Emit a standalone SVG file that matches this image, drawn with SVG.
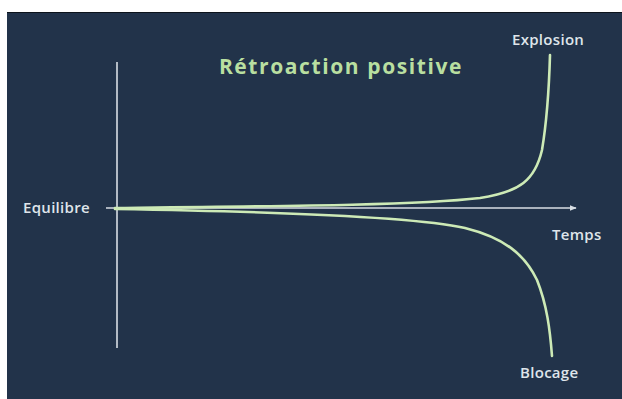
<svg xmlns="http://www.w3.org/2000/svg" width="622" height="399" viewBox="0 0 622 399">
<style>
.lbl{font-family:"Open Sans","Liberation Sans",sans-serif;font-size:15px;font-weight:600;letter-spacing:0.3px;fill:#dfe5ea}
.ttl{font-family:"Open Sans","Liberation Sans",sans-serif;font-size:21px;font-weight:bold;letter-spacing:1.6px;fill:#b9dfa0}
.axis{stroke:#d8dee4;stroke-width:1.6;fill:none}
.curve{stroke:#cdeab6;stroke-width:2.6;fill:none;stroke-linecap:round}
</style>
<defs>
<marker id="ah" viewBox="0 0 10 10" refX="9" refY="5" markerWidth="7" markerHeight="7" orient="auto" markerUnits="userSpaceOnUse">
<path d="M0,1 L10,5 L0,9 z" fill="#d8dee4"/>
</marker>
</defs>
<rect x="0" y="0" width="622" height="399" fill="#ffffff"/>
<rect x="7" y="12" width="615" height="387" fill="#22334a"/>
<line x1="7" y1="12.5" x2="622" y2="12.5" stroke="#0d141c" stroke-width="1"/>
<g id="title"><text class="ttl" x="341" y="74" text-anchor="middle">Rétroaction positive</text></g>
<g id="connectors">
<line class="axis" x1="117" y1="62" x2="117" y2="348"/>
<line class="axis" x1="106" y1="208" x2="576" y2="208" marker-end="url(#ah)"/>
<path class="curve" d="M115,208 C300,206 420,205 480,198 C520,192 535,180 542,150 C547,120 549,90 550,55"/>
<path class="curve" d="M115,209 C300,212 420,218 465,228 C505,238 525,255 537,280 C547,305 550,330 552,356"/>
</g>
<g id="equilibre"><text class="lbl" x="23" y="213">Equilibre</text></g>
<g id="explosion"><text class="lbl" x="512" y="45">Explosion</text></g>
<g id="temps"><text class="lbl" x="552" y="240">Temps</text></g>
<g id="blocage"><text class="lbl" x="520" y="378">Blocage</text></g>
</svg>
